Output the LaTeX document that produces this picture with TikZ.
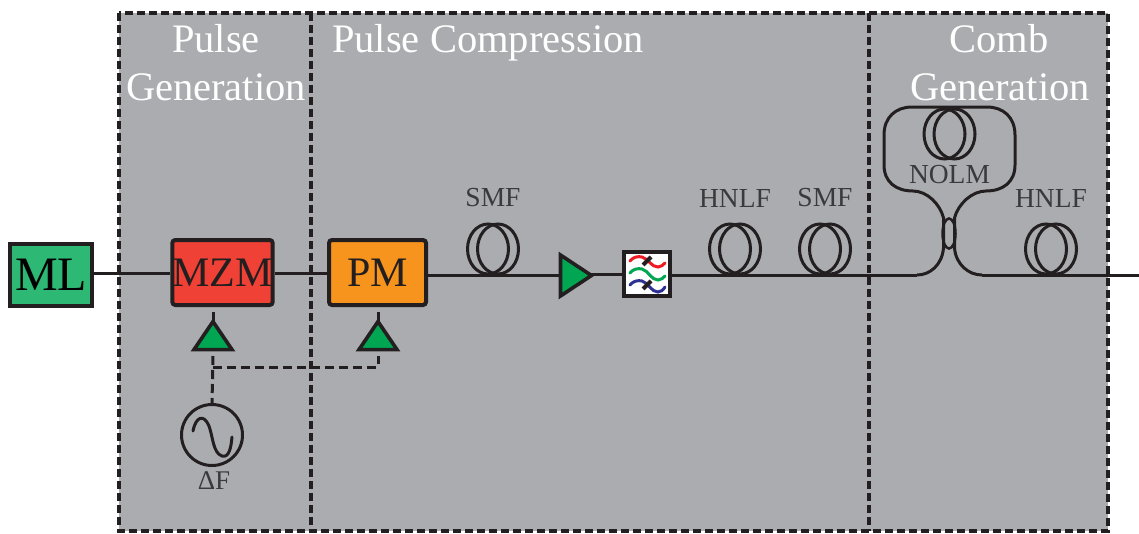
\documentclass[tikz,border=0pt]{standalone}
\usepackage{fontspec}
\setmainfont{Liberation Serif}
\usetikzlibrary{shapes.geometric}
\definecolor{panelgray}{HTML}{ABACB0}
\definecolor{ink}{HTML}{231F20}
\definecolor{labelink}{HTML}{3A3A3C}
\definecolor{mlgreen}{HTML}{2DB873}
\definecolor{mzmred}{HTML}{EF4136}
\definecolor{pmorange}{HTML}{F7941D}
\definecolor{ampgreen}{HTML}{00A651}
\definecolor{wavered}{HTML}{ED1C24}
\definecolor{wavegreen}{HTML}{00A651}
\definecolor{waveblue}{HTML}{2E3192}
\newcommand{\fs}[1]{\fontsize{#1pt}{#1pt}\selectfont}
\tikzset{
  x=1pt,y=-1pt,
  panel/.style={draw=ink,line width=3.6pt,dash pattern=on 8pt off 4pt},
  fibre/.style={draw=ink,line width=3pt},
  rfdash/.style={draw=ink,line width=3pt,dash pattern=on 9pt off 5pt},
  modbox/.style={draw=ink,line width=4pt,rounded corners=3pt,inner sep=0pt,minimum width=97pt,minimum height=65pt,text=ink,font=\fs{42}},
  heading/.style={text=white,font=\fs{40.5},inner sep=0pt,align=center,anchor=base},
  label/.style={text=labelink,font=\fs{27.5},inner sep=0pt},
  tri/.style={isosceles triangle,isosceles triangle stretches=true,draw=ink,fill=ampgreen,line width=3.6pt,inner sep=0pt,outer sep=0pt,minimum height=28pt,minimum width=38pt,shape border rotate=90},
  coil/.pic={
    \draw[ink,line width=3pt] (-5,0) ellipse [x radius=20.5,y radius=25];
    \draw[ink,line width=3pt] (5,0) ellipse [x radius=20.5,y radius=25];
  },
  wave/.style={line width=3pt,line cap=round},
}
\begin{document}
\begin{tikzpicture}
\useasboundingbox (0,0) rectangle (1139,533);
% panels
\fill[panelgray] (119,13) rectangle (1108,531);
\draw[panel] (119,13) rectangle (1108,531);
\draw[panel] (311,13) -- (311,531);
\draw[panel] (869,13) -- (869,531);
% headings
\node[heading] (h1) at (216,52) {Pulse};
\node[heading] (h2) at (216,100) {Generation};
\node[heading] (h3) at (488,52) {Pulse Compression};
\node[heading] (h4) at (999,52) {Comb};
\node[heading] (h5) at (1000,100) {Generation};
% named anchors along the fibre
\coordinate (cplLB) at (917,275);
\coordinate (cplRB) at (982,275);
\coordinate (out) at (1139,275);
% boxes
\node[draw=ink,fill=mlgreen,line width=4pt,inner sep=0pt,minimum width=82pt,minimum height=62pt,text=black,font=\fs{48}] (ml) at (51,275) {ML};
\node[modbox,fill=mzmred] (mzm) at (222.5,272.5) {MZM};
\node[modbox,fill=pmorange] (pm) at (377.5,272.5) {PM};
\draw[fibre] (ml.east |- 0,273) -- (mzm.west |- 0,273);
\draw[fibre] (mzm.east |- 0,273) -- (pm.west |- 0,273);
% amplifier and filter
\node[tri,shape border rotate=0,minimum height=31pt,minimum width=41pt] (amp) at (571.5,275.5) {};
\node[draw=ink,fill=white,line width=4pt,inner sep=0pt,minimum width=46pt,minimum height=44pt] (filt) at (647,274) {};
\draw[fibre] (pm.east |- amp.west) -- (amp.west);
\draw[fibre] (amp.east |- filt.west) -- (filt.west);
\draw[fibre] (filt.east |- cplLB) -- (cplLB);
\draw[wave,wavered] (630,261) .. controls (633,257) and (638,256) .. (642,257) .. controls (649,259) and (651,267) .. (658,267) .. controls (661,267) and (663,265) .. (665,263);
\draw[wave,wavegreen] (630,273) .. controls (633,269) and (638,268) .. (642,269) .. controls (649,271) and (651,280) .. (658,280) .. controls (661,280) and (663,278) .. (665,276);
\draw[wave,waveblue] (630,285) .. controls (633,281) and (638,280) .. (642,281) .. controls (649,283) and (651,292) .. (658,292) .. controls (661,292) and (663,290) .. (665,287);
\draw[ink,line width=4pt] (643,265) -- (651,257);
\draw[ink,line width=4pt] (643,289) -- (651,281);
% coils and labels
\pic at (493,249) {coil};
\pic at (735,249) {coil};
\pic at (825,249) {coil};
\pic at (1051,249) {coil};
\pic at (949.5,134) {coil};
\node[label] (l1) at (493,198) {SMF};
\node[label] (l2) at (735,198) {HNLF};
\node[label] (l3) at (825,198) {SMF};
\node[label] (l4) at (949.5,175) {NOLM};
\node[label] (l5) at (1051,198) {HNLF};
% NOLM loop and coupler
\node[draw=ink,line width=2.5pt,ellipse,inner sep=0pt,minimum width=13pt,minimum height=30pt] (cpl) at (949,233.5) {};
\draw[fibre] (cplLB) .. controls (930,275) and (942,265) .. (943.5,248)
   -- (943.5,218) .. controls (940,204) and (927,191) .. (913,191)
   .. controls (896,191) and (884,182) .. (884,165) -- (884,135)
   .. controls (884,117) and (896,107) .. (912,107) -- (987,107)
   .. controls (1003,107) and (1015,117) .. (1015,135) -- (1015,165)
   .. controls (1015,182) and (1003,191) .. (986,191)
   .. controls (972,191) and (958,204) .. (954.5,218) -- (954.5,248)
   .. controls (956,265) and (969,275) .. (cplRB);
\draw[fibre] (cplRB) -- (out);
% RF drive
\node[tri] (ta) at (213,339.5) {};
\node[tri] (tb) at (378,339.5) {};
\node[circle,draw=ink,line width=3pt,inner sep=0pt,minimum size=61pt] (rf) at (212,435) {};
\draw[ink,line width=3pt,line cap=round] (193,431) .. controls (196,416) and (204,414) .. (209,426) .. controls (213,437) and (213,453) .. (222,456) .. controls (229,458) and (231,448) .. (232,437);
\node[label,font=\fs{27}] (df) at (214,481) {ΔF};
\draw[rfdash,dash phase=9pt] (mzm.south -| ta.north) -- (ta.north);
\draw[rfdash,dash phase=9pt] (pm.south -| tb.north) -- (tb.north);
\draw[rfdash] (ta.south |- 0,356) -- (rf.north);
\draw[rfdash] (ta.south |- 0,367) -- (tb.south |- 0,367) -- (tb.south |- 0,356);
\end{tikzpicture}
\end{document}
